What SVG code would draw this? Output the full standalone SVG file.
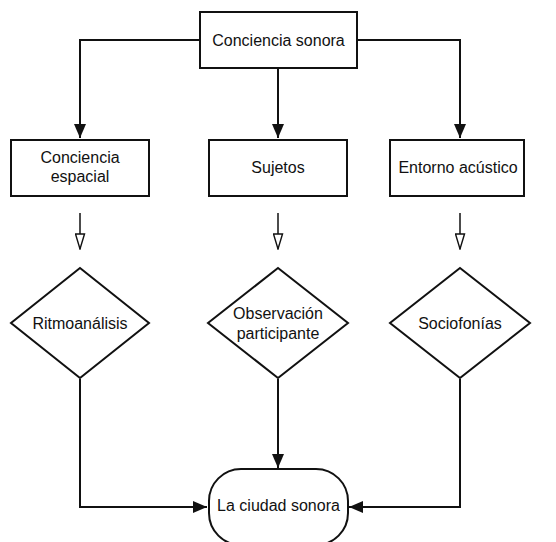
<svg xmlns="http://www.w3.org/2000/svg" width="556" height="542" viewBox="0 0 556 542">
<style>
.n{fill:#fff;stroke:#111;stroke-width:2}
.t{font-family:"Liberation Sans",Arial,sans-serif;font-size:16px;fill:#111;text-anchor:middle}
.c{fill:none;stroke:#111;stroke-width:2}
.o{fill:none;stroke:#111;stroke-width:1.5}
</style>
<defs>
<marker id="a" viewBox="0 0 14 12" refX="14" refY="6" markerWidth="14" markerHeight="12" markerUnits="userSpaceOnUse" orient="auto">
<path d="M0,0 L14,6 L0,12 Z" fill="#111"/>
</marker>
<marker id="h" viewBox="0 0 17 11" refX="16" refY="5.5" markerWidth="17" markerHeight="11" markerUnits="userSpaceOnUse" orient="auto">
<path d="M1,1 L16,5.5 L1,10 Z" fill="#fff" stroke="#111" stroke-width="1.4"/>
</marker>
</defs>
<rect width="556" height="542" fill="#fff"/>
<g id="connectors">
<path class="c" d="M200,40 H80 V138" marker-end="url(#a)"/>
<path class="c" d="M278,68 V138" marker-end="url(#a)"/>
<path class="c" d="M357,40 H460 V138" marker-end="url(#a)"/>
<path class="o" d="M80,213 V249" marker-end="url(#h)"/>
<path class="o" d="M278,213 V249" marker-end="url(#h)"/>
<path class="o" d="M460,213 V249" marker-end="url(#h)"/>
<path class="c" d="M80,379 V507 H207" marker-end="url(#a)"/>
<path class="c" d="M278,379 V468" marker-end="url(#a)"/>
<path class="c" d="M460,379 V507 H349" marker-end="url(#a)"/>
</g>
<g id="n-conciencia-sonora">
<rect class="n" x="200" y="12" width="157" height="56"/>
<text class="t" x="278.5" y="46">Conciencia sonora</text>
</g>
<g id="n-conciencia-espacial">
<rect class="n" x="11" y="140" width="138" height="56"/>
<text class="t" x="80" y="163">Conciencia</text>
<text class="t" x="80" y="182">espacial</text>
</g>
<g id="n-sujetos">
<rect class="n" x="209" y="140" width="138" height="56"/>
<text class="t" x="278" y="173">Sujetos</text>
</g>
<g id="n-entorno">
<rect class="n" x="390" y="140" width="134" height="56"/>
<text class="t" x="458" y="173">Entorno acústico</text>
</g>
<g id="n-ritmoanalisis">
<polygon class="n" points="80,268 149,323 80,378 11,323"/>
<text class="t" x="80" y="329">Ritmoanálisis</text>
</g>
<g id="n-observacion">
<polygon class="n" points="278,268 348,323 278,378 208,323"/>
<text class="t" x="278" y="319">Observación</text>
<text class="t" x="278" y="339">participante</text>
</g>
<g id="n-sociofonias">
<polygon class="n" points="460,268 530,323 460,378 390,323"/>
<text class="t" x="460" y="329">Sociofonías</text>
</g>
<g id="n-ciudad">
<rect class="n" x="209" y="469" width="139" height="76" rx="32" ry="32"/>
<text class="t" x="278.5" y="511">La ciudad sonora</text>
</g>
</svg>
